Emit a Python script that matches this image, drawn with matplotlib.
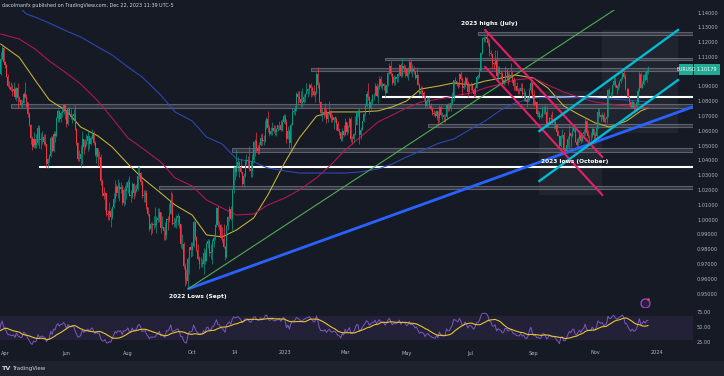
import numpy as np
import pandas as pd
import matplotlib
matplotlib.use("Agg")
import matplotlib.pyplot as plt
from matplotlib.patches import Rectangle
import matplotlib.transforms as mtrans

# ---------------- data (EUR/USD daily) ----------------
start_date, end_date = "2022-03-01", "2023-12-22"

close = [
 # 2022-03
 1.1125,1.1120,1.1065,1.0930,1.0855,1.0905,1.1075,1.0985,1.0915,1.0940,1.0955,1.1035,1.1095,1.1050,1.1015,1.1030,1.1005,1.0995,1.0985,1.0985,1.1090,1.1160,1.1067,
 # 2022-04
 1.1046,1.0970,1.0905,1.0900,1.0880,1.0876,1.0885,1.0829,1.0890,1.0825,1.0810,1.0780,1.0790,1.0853,1.0834,1.0795,1.0716,1.0640,1.0555,1.0496,1.0545,
 # 2022-05
 1.0505,1.0523,1.0620,1.0540,1.0550,1.0560,1.0530,1.0515,1.0380,1.0410,1.0435,1.0555,1.0465,1.0585,1.0565,1.0690,1.0735,1.0680,1.0725,1.0730,1.0780,1.0735,
 # 2022-06
 1.0650,1.0750,1.0720,1.0695,1.0705,1.0715,1.0615,1.0520,1.0410,1.0415,1.0445,1.0550,1.0495,1.0515,1.0535,1.0565,1.0515,1.0555,1.0585,1.0520,1.0440,1.0485,
 # 2022-07
 1.0425,1.0425,1.0265,1.0180,1.0160,1.0185,1.0040,1.0035,1.0060,1.0020,1.0085,1.0140,1.0225,1.0180,1.0230,1.0210,1.0225,1.0115,1.0200,1.0195,1.0220,
 # 2022-08
 1.0260,1.0165,1.0165,1.0245,1.0180,1.0195,1.0210,1.0295,1.0320,1.0260,1.0160,1.0170,1.0180,1.0085,1.0040,0.9940,0.9970,0.9965,0.9970,0.9965,1.0000,1.0015,1.0055,
 # 2022-09
 0.9945,0.9955,0.9925,0.9900,1.0010,1.0000,1.0040,1.0120,0.9975,0.9980,0.9995,1.0015,1.0025,0.9970,0.9837,0.9838,0.9690,0.9605,0.9590,0.9735,0.9815,0.9800,
 # 2022-10
 0.9825,0.9985,0.9885,0.9795,0.9740,0.9700,0.9705,0.9705,0.9780,0.9720,0.9840,0.9860,0.9775,0.9785,0.9860,0.9880,0.9965,1.0080,0.9965,0.9965,0.9880,
 # 2022-11
 0.9875,0.9820,0.9750,0.9960,1.0020,1.0075,1.0010,1.0210,1.0355,1.0325,1.0350,1.0395,1.0360,1.0325,1.0245,1.0300,1.0395,1.0405,1.0400,1.0345,1.0330,1.0405,
 # 2022-12
 1.0525,1.0535,1.0490,1.0465,1.0505,1.0555,1.0535,1.0535,1.0630,1.0680,1.0625,1.0585,1.0605,1.0625,1.0600,1.0595,1.0615,1.0640,1.0640,1.0610,1.0665,1.0705,
 # 2023-01
 1.0665,1.0545,1.0605,1.0520,1.0645,1.0730,1.0735,1.0760,1.0855,1.0830,1.0820,1.0790,1.0795,1.0830,1.0855,1.0870,1.0885,1.0915,1.0890,1.0870,1.0845,1.0865,
 # 2023-02
 1.0990,1.0910,1.0795,1.0725,1.0730,1.0715,1.0740,1.0680,1.0720,1.0740,1.0690,1.0675,1.0695,1.0685,1.0650,1.0605,1.0595,1.0545,1.0605,1.0575,
 # 2023-03
 1.0665,1.0595,1.0635,1.0685,1.0550,1.0545,1.0580,1.0640,1.0730,1.0730,1.0575,1.0610,1.0670,1.0720,1.0770,1.0855,1.0830,1.0760,1.0800,1.0845,1.0845,1.0905,1.0840,
 # 2023-04
 1.0900,1.0955,1.0905,1.0920,1.0905,1.0860,1.0915,1.0995,1.1045,1.0990,1.0925,1.0970,1.0955,1.0965,1.0990,1.1050,1.0975,1.1040,1.1030,1.1020,
 # 2023-05
 1.0975,1.0995,1.1070,1.1010,1.1020,1.1005,1.0960,1.0980,1.0915,1.0850,1.0870,1.0860,1.0840,1.0770,1.0805,1.0815,1.0770,1.0750,1.0725,1.0720,1.0705,1.0735,1.0690,
 # 2023-06
 1.0765,1.0710,1.0710,1.0695,1.0700,1.0780,1.0750,1.0750,1.0790,1.0830,1.0945,1.0940,1.0925,1.0915,1.0990,1.0955,1.0895,1.0905,1.0960,1.0915,1.0865,1.0910,
 # 2023-07
 1.0910,1.0880,1.0850,1.0890,1.0970,1.0970,1.1010,1.1130,1.1225,1.1230,1.1235,1.1225,1.1200,1.1130,1.1125,1.1065,1.1055,1.1085,1.0975,1.1015,1.0995,
 # 2023-08
 1.0985,1.0935,1.0945,1.1005,1.1000,1.0955,1.0975,1.0980,1.0945,1.0905,1.0905,1.0875,1.0870,1.0870,1.0895,1.0850,1.0860,1.0810,1.0795,1.0820,1.0880,1.0925,1.0845,
 # 2023-09
 1.0775,1.0795,1.0720,1.0725,1.0700,1.0700,1.0750,1.0755,1.0730,1.0645,1.0660,1.0690,1.0680,1.0660,1.0660,1.0645,1.0595,1.0570,1.0500,1.0565,1.0575,
 # 2023-10
 1.0475,1.0470,1.0505,1.0550,1.0590,1.0565,1.0605,1.0620,1.0530,1.0510,1.0545,1.0575,1.0535,1.0580,1.0595,1.0670,1.0590,1.0565,1.0565,1.0565,1.0615,1.0575,
 # 2023-11
 1.0570,1.0620,1.0730,1.0710,1.0695,1.0710,1.0665,1.0685,1.0700,1.0880,1.0850,1.0850,1.0910,1.0940,1.0910,1.0890,1.0905,1.0940,1.0955,1.0995,1.0970,1.0885,
 # 2023-12
 1.0885,1.0835,1.0795,1.0765,1.0795,1.0760,1.0765,1.0795,1.0875,1.0990,1.0895,1.0920,1.0980,1.0945,1.1010,1.10179,
]

high = [
 1.1235,1.1150,1.1140,1.1065,1.0935,1.0960,1.1090,1.1120,1.1040,1.0990,1.1010,1.1045,1.1135,1.1110,1.1070,1.1045,1.1035,1.1025,1.1005,1.1005,1.1137,1.1185,1.1175,
 1.1075,1.1053,1.0990,1.0938,1.0933,1.0920,1.0934,1.0900,1.0900,1.0925,1.0840,1.0820,1.0810,1.0866,1.0935,1.0850,1.0790,1.0730,1.0650,1.0570,1.0595,
 1.0545,1.0580,1.0640,1.0642,1.0590,1.0600,1.0580,1.0580,1.0515,1.0420,1.0450,1.0565,1.0565,1.0605,1.0600,1.0700,1.0750,1.0745,1.0738,1.0765,1.0787,1.0765,
 1.0740,1.0765,1.0765,1.0750,1.0720,1.0748,1.0775,1.0625,1.0525,1.0475,1.0505,1.0601,1.0550,1.0545,1.0580,1.0605,1.0570,1.0570,1.0615,1.0605,1.0535,1.0490,
 1.0485,1.0465,1.0445,1.0275,1.0225,1.0190,1.0175,1.0065,1.0120,1.0080,1.0095,1.0185,1.0270,1.0245,1.0280,1.0255,1.0258,1.0240,1.0220,1.0235,1.0255,
 1.0275,1.0295,1.0200,1.0255,1.0250,1.0235,1.0245,1.0368,1.0365,1.0325,1.0270,1.0200,1.0200,1.0200,1.0090,1.0040,0.9990,0.9990,1.0030,1.0090,1.0030,1.0080,1.0080,
 1.0055,1.0030,0.9950,0.9985,1.0015,1.0030,1.0112,1.0197,1.0185,1.0020,1.0017,1.0035,1.0050,1.0020,0.9975,0.9905,0.9850,0.9710,0.9670,0.9750,0.9815,0.9855,
 0.9850,0.9999,0.9990,0.9895,0.9835,0.9755,0.9750,0.9740,0.9808,0.9805,0.9850,0.9875,0.9870,0.9835,0.9872,0.9900,0.9976,1.0090,1.0094,0.9995,0.9975,
 0.9950,0.9975,0.9825,0.9965,1.0030,1.0095,1.0095,1.0220,1.0365,1.0365,1.0480,1.0425,1.0400,1.0410,1.0325,1.0315,1.0410,1.0445,1.0435,1.0500,1.0400,1.0445,
 1.0535,1.0545,1.0595,1.0510,1.0530,1.0585,1.0590,1.0575,1.0675,1.0695,1.0735,1.0640,1.0630,1.0665,1.0640,1.0640,1.0625,1.0645,1.0670,1.0675,1.0680,1.0715,
 1.0715,1.0685,1.0635,1.0615,1.0655,1.0760,1.0760,1.0775,1.0865,1.0875,1.0875,1.0870,1.0890,1.0855,1.0860,1.0925,1.0890,1.0930,1.0930,1.0905,1.0915,1.0875,
 1.1000,1.1033,1.0935,1.0805,1.0760,1.0765,1.0790,1.0755,1.0730,1.0805,1.0745,1.0720,1.0700,1.0705,1.0695,1.0670,1.0625,1.0595,1.0620,1.0645,
 1.0690,1.0665,1.0645,1.0695,1.0695,1.0565,1.0590,1.0705,1.0735,1.0750,1.0755,1.0630,1.0670,1.0725,1.0790,1.0870,1.0930,1.0840,1.0820,1.0850,1.0860,1.0925,1.0925,
 1.0915,1.0975,1.0975,1.0935,1.0925,1.0920,1.0930,1.1000,1.1065,1.1075,1.0995,1.0980,1.0975,1.0980,1.0995,1.1055,1.1065,1.1095,1.1055,1.1050,
 1.1025,1.1035,1.1090,1.1092,1.1055,1.1040,1.1005,1.1035,1.0985,1.0925,1.0905,1.0905,1.0875,1.0840,1.0830,1.0830,1.0830,1.0790,1.0765,1.0745,1.0740,1.0745,1.0735,
 1.0780,1.0780,1.0730,1.0720,1.0715,1.0785,1.0790,1.0790,1.0825,1.0865,1.0950,1.0970,1.0940,1.0935,1.0995,1.1010,1.0970,1.0940,1.0975,1.0965,1.0940,1.0925,
 1.0935,1.0915,1.0895,1.0910,1.0975,1.0990,1.1025,1.1135,1.1235,1.1245,1.1245,1.1276,1.1230,1.1225,1.1150,1.1120,1.1070,1.1150,1.1150,1.1045,1.1045,
 1.1015,1.1000,1.0955,1.1040,1.1030,1.1000,1.1000,1.1065,1.1010,1.0965,1.0950,1.0935,1.0895,1.0890,1.0925,1.0930,1.0890,1.0875,1.0840,1.0830,1.0895,1.0945,1.0925,
 1.0880,1.0810,1.0805,1.0745,1.0735,1.0725,1.0770,1.0770,1.0775,1.0770,1.0670,1.0700,1.0715,1.0735,1.0670,1.0675,1.0650,1.0610,1.0575,1.0575,1.0615,
 1.0595,1.0490,1.0525,1.0565,1.0640,1.0575,1.0635,1.0640,1.0640,1.0555,1.0560,1.0595,1.0590,1.0590,1.0615,1.0695,1.0675,1.0610,1.0575,1.0595,1.0630,1.0625,
 1.0595,1.0635,1.0755,1.0755,1.0715,1.0730,1.0730,1.0700,1.0705,1.0885,1.0890,1.0865,1.0915,1.0965,1.0965,1.0915,1.0925,1.0950,1.0965,1.1005,1.1017,1.0985,
 1.0895,1.0890,1.0840,1.0805,1.0810,1.0800,1.0780,1.0825,1.0890,1.1010,1.1000,1.0940,1.0985,1.1010,1.1015,1.1040,
]

low = [
 1.1090,1.1080,1.1030,1.0890,1.0805,1.0850,1.0905,1.0980,1.0905,1.0910,1.0930,1.0945,1.1020,1.1005,1.1000,1.0990,1.0965,1.0960,1.0965,1.0945,1.0980,1.1085,1.1055,
 1.1027,1.0970,1.0900,1.0885,1.0870,1.0836,1.0860,1.0820,1.0806,1.0757,1.0800,1.0770,1.0760,1.0790,1.0825,1.0767,1.0700,1.0636,1.0515,1.0471,1.0490,
 1.0490,1.0490,1.0505,1.0485,1.0483,1.0512,1.0510,1.0500,1.0355,1.0349,1.0390,1.0425,1.0460,1.0460,1.0530,1.0560,1.0660,1.0660,1.0660,1.0700,1.0720,1.0680,
 1.0627,1.0645,1.0715,1.0685,1.0655,1.0680,1.0610,1.0505,1.0400,1.0400,1.0359,1.0380,1.0445,1.0480,1.0500,1.0470,1.0480,1.0510,1.0545,1.0510,1.0430,1.0385,
 1.0365,1.0410,1.0235,1.0160,1.0145,1.0070,1.0030,0.9998,0.9998,0.9952,1.0008,1.0080,1.0125,1.0160,1.0150,1.0130,1.0180,1.0105,1.0095,1.0110,1.0145,
 1.0185,1.0160,1.0125,1.0150,1.0140,1.0160,1.0190,1.0200,1.0280,1.0240,1.0150,1.0120,1.0120,1.0075,1.0030,0.9925,0.9900,0.9910,0.9940,0.9950,0.9915,0.9985,0.9990,
 0.9910,0.9945,0.9863,0.9865,0.9875,0.9930,0.9990,1.0050,0.9965,0.9955,0.9955,0.9945,0.9966,0.9945,0.9810,0.9807,0.9670,0.9553,0.9570,0.9536,0.9635,0.9750,
 0.9755,0.9820,0.9865,0.9790,0.9730,0.9670,0.9685,0.9685,0.9632,0.9700,0.9725,0.9810,0.9760,0.9740,0.9705,0.9815,0.9865,0.9955,0.9950,0.9935,0.9870,
 0.9850,0.9810,0.9730,0.9745,0.9930,0.9995,1.0000,0.9935,1.0185,1.0270,1.0300,1.0330,1.0290,1.0320,1.0225,1.0225,1.0290,1.0375,1.0350,1.0330,1.0290,1.0290,
 1.0390,1.0430,1.0460,1.0445,1.0445,1.0500,1.0505,1.0510,1.0530,1.0615,1.0595,1.0565,1.0575,1.0575,1.0590,1.0575,1.0570,1.0600,1.0610,1.0600,1.0605,1.0655,
 1.0650,1.0520,1.0545,1.0485,1.0480,1.0640,1.0715,1.0710,1.0735,1.0780,1.0800,1.0765,1.0765,1.0790,1.0800,1.0850,1.0830,1.0855,1.0835,1.0840,1.0840,1.0800,
 1.0855,1.0895,1.0790,1.0705,1.0670,1.0690,1.0705,1.0655,1.0660,1.0710,1.0660,1.0660,1.0615,1.0665,1.0610,1.0600,1.0575,1.0535,1.0535,1.0570,
 1.0575,1.0575,1.0590,1.0630,1.0525,1.0515,1.0525,1.0575,1.0655,1.0695,1.0515,1.0550,1.0610,1.0660,1.0705,1.0765,1.0815,1.0715,1.0745,1.0785,1.0810,1.0840,1.0830,
 1.0790,1.0885,1.0890,1.0880,1.0880,1.0835,1.0860,1.0905,1.0990,1.0975,1.0910,1.0910,1.0915,1.0935,1.0935,1.0975,1.0965,1.0965,1.0995,1.0965,
 1.0965,1.0945,1.0985,1.0995,1.0965,1.0990,1.0955,1.0940,1.0910,1.0845,1.0850,1.0835,1.0815,1.0760,1.0760,1.0800,1.0760,1.0745,1.0710,1.0705,1.0700,1.0675,1.0635,
 1.0665,1.0705,1.0675,1.0665,1.0665,1.0690,1.0735,1.0735,1.0740,1.0775,1.0805,1.0920,1.0905,1.0895,1.0900,1.0945,1.0845,1.0885,1.0900,1.0900,1.0835,1.0865,
 1.0880,1.0870,1.0835,1.0835,1.0890,1.0955,1.0960,1.1010,1.1125,1.1205,1.1205,1.1205,1.1175,1.1110,1.1110,1.1020,1.1020,1.1050,1.0965,1.0945,1.0985,
 1.0945,1.0910,1.0915,1.0935,1.0965,1.0915,1.0940,1.0970,1.0930,1.0880,1.0880,1.0870,1.0855,1.0850,1.0870,1.0835,1.0805,1.0805,1.0765,1.0795,1.0805,1.0860,1.0835,
 1.0770,1.0775,1.0705,1.0700,1.0685,1.0690,1.0710,1.0720,1.0715,1.0630,1.0630,1.0650,1.0665,1.0650,1.0615,1.0615,1.0585,1.0570,1.0490,1.0495,1.0555,
 1.0470,1.0448,1.0460,1.0495,1.0480,1.0495,1.0560,1.0595,1.0525,1.0495,1.0500,1.0525,1.0520,1.0525,1.0570,1.0575,1.0580,1.0555,1.0520,1.0535,1.0555,1.0515,
 1.0520,1.0555,1.0615,1.0700,1.0665,1.0680,1.0660,1.0655,1.0655,1.0695,1.0830,1.0830,1.0840,1.0905,1.0900,1.0850,1.0880,1.0895,1.0925,1.0945,1.0960,1.0880,
 1.0830,1.0830,1.0785,1.0760,1.0755,1.0723,1.0735,1.0740,1.0775,1.0875,1.0890,1.0890,1.0910,1.0940,1.0935,1.0990,
]

# moving averages (SMA 50 yellow, SMA 100 red, SMA 200 blue)
ma_dates = ["2022-03-29","2022-04-15","2022-05-02","2022-05-16","2022-06-01","2022-06-15","2022-07-01","2022-07-15",
            "2022-08-01","2022-08-15","2022-09-01","2022-09-15","2022-10-03","2022-10-17","2022-11-01","2022-11-15",
            "2022-12-01","2022-12-15","2023-01-02","2023-01-16","2023-02-01","2023-02-15","2023-03-01","2023-03-15",
            "2023-04-03","2023-04-17","2023-05-01","2023-05-15","2023-06-01","2023-06-15","2023-07-03","2023-07-17",
            "2023-08-01","2023-08-15","2023-09-01","2023-09-15","2023-10-02","2023-10-16","2023-11-01","2023-11-15",
            "2023-12-01","2023-12-15","2023-12-22"]
sma50 = [1.1190,1.1100,1.0947,1.0812,1.0738,1.0629,1.0569,1.0494,1.0380,1.0285,1.0183,1.0102,1.0034,0.9900,0.9886,0.9933,
         1.0014,1.0170,1.0393,1.0555,1.0703,1.0731,1.0731,1.0731,1.0738,1.0765,1.0805,1.0886,1.0907,1.0927,1.0913,1.0940,
         1.0960,1.0981,1.0960,1.0893,1.0772,1.0717,1.0657,1.0629,1.0670,1.0738,1.0758]
sma100 = [1.1258,1.1224,1.1157,1.1076,1.0994,1.0920,1.0805,1.0690,1.0555,1.0487,1.0393,1.0285,1.0230,1.0136,1.0082,1.0034,
          1.0041,1.0102,1.0150,1.0203,1.0285,1.0372,1.0474,1.0555,1.0663,1.0710,1.0758,1.0798,1.0819,1.0839,1.0859,1.0893,
          1.0920,1.0947,1.0960,1.0913,1.0866,1.0832,1.0798,1.0785,1.0771,1.0762,1.0758]
sma200_dates = ["2022-04-15","2022-04-22","2022-05-02","2022-05-16","2022-06-01","2022-06-15","2022-07-01","2022-07-15",
                "2022-08-01","2022-08-15","2022-09-01","2022-09-15","2022-10-03","2022-10-17","2022-11-01","2022-11-15",
                "2022-12-01","2022-12-15","2023-01-02","2023-01-16","2023-02-01","2023-03-01","2023-03-15","2023-04-03",
                "2023-04-17","2023-05-01","2023-05-15","2023-06-01","2023-06-15","2023-07-03","2023-07-17","2023-08-01",
                "2023-08-15","2023-09-01","2023-09-15","2023-10-02","2023-11-01","2023-12-01","2023-12-22"]
sma200 = [1.1440,1.1393,1.1373,1.1332,1.1278,1.1238,1.1170,1.1116,1.1035,1.0967,1.0846,1.0731,1.0670,1.0562,1.0514,1.0413,
          1.0393,1.0352,1.0332,1.0318,1.0318,1.0318,1.0325,1.0345,1.0379,1.0427,1.0467,1.0521,1.0548,1.0616,1.0670,1.0744,
          1.0792,1.0825,1.0832,1.0832,1.0825,1.0812,1.0798]

# horizontal zones (start date, top, bottom) and white levels
zone_start = ["2023-07-10","2023-04-10","2023-01-26","2022-04-07","2023-05-22","2022-11-10","2022-08-31"]
zone_top = [1.1271,1.1099,1.1028,1.0785,1.0650,1.0487,1.0228]
zone_bot = [1.1251,1.1079,1.1008,1.0761,1.0629,1.0460,1.0207]
level_start = ["2023-04-06","2022-05-05"]
level_price = [1.0832,1.0359]

# shaded boxes (start, end, top, bottom)
box_start = ["2023-09-07","2023-11-08"]
box_end = ["2023-11-08","2024-01-22"]
box_top = [1.0870,1.1285]
box_bot = [1.0170,1.0590]

# trend lines: anchor dates and prices
blue_dates, blue_prices = ["2022-09-28","2024-02-05"], [0.9534,1.0764]
green_dates, green_prices = ["2022-09-28","2023-05-24"], [0.9534,1.0609]
pink_dates = ["2023-07-17","2023-11-08"]
pink_upper, pink_lower = [1.1285,1.0427], [1.1035,1.0170]
cyan_dates = ["2023-09-07","2024-01-22"]
cyan_upper, cyan_lower = [1.0602,1.1285], [1.0264,1.0947]

notes = ["2023 highs (July)","2022 Lows (Sept)","2023 lows (October)"]
note_dates = ["2023-07-20","2022-10-07","2023-10-12"]
note_prices = [1.1332,0.9480,1.0393]

price_ticks = [0.95,0.96,0.97,0.98,0.99,1.00,1.01,1.02,1.03,1.04,1.05,1.06,1.07,1.08,1.09,1.11,1.12,1.13,1.14]
date_labels = ["Apr","Jun","Aug","Oct","14","2023","Mar","May","Jul","Sep","Nov","2024"]
date_ticks = ["2022-04-01","2022-06-01","2022-08-01","2022-10-03","2022-11-14","2023-01-02","2023-03-01",
              "2023-05-01","2023-07-03","2023-09-01","2023-11-01","2024-01-01"]
last_price = 1.10179
rsi_ticks = [75, 50, 25]

# ---------------- figure ----------------
W, H = 724, 376
BG = "#161a25"
UP, DN = "#089981", "#f23645"
TXT = "#b2b5be"

close = np.array(close); high = np.array(high); low = np.array(low)
dates = pd.bdate_range(start_date, end_date)
assert len(dates) == len(close) == len(high) == len(low), (len(dates), len(close), len(high), len(low))
all_dates = pd.bdate_range(start_date, "2024-06-28")

def pos(d):
    return np.asarray(all_dates.searchsorted(pd.to_datetime(d)), dtype=float)

fig = plt.figure(figsize=(W / 100, H / 100), dpi=100)
fig.patch.set_facecolor(BG)

def rect(x0, y0, x1, y1):
    return [x0 / W, 1 - y1 / H, (x1 - x0) / W, (y1 - y0) / H]

ax = fig.add_axes(rect(0, 10, 693, 308))
rax = fig.add_axes(rect(0, 308, 693, 349))
XL = (19.5, 504.5)
for a in (ax, rax):
    a.set_facecolor(BG)
    a.set_xlim(*XL)
    for s in a.spines.values():
        s.set_visible(False)
    a.set_xticks([]); a.set_yticks([])
ax.set_ylim(0.94054, 1.14203)

# shaded boxes
for s0, s1, t, b in zip(box_start, box_end, box_top, box_bot):
    x0, x1 = pos(s0), pos(s1)
    ax.add_patch(Rectangle((x0, b), x1 - x0, t - b, facecolor="#2a2e39", alpha=0.55, edgecolor="none", zorder=0.5))

# horizontal zones
for d, t, b in zip(zone_start, zone_top, zone_bot):
    x0 = pos(d)
    ax.add_patch(Rectangle((x0, b), XL[1] - x0, t - b, facecolor="#4a4e5a", alpha=0.55,
                           edgecolor="#8d9099", lw=0.8, zorder=1))
for d, p in zip(level_start, level_price):
    ax.hlines(p, pos(d), XL[1], color="white", lw=1.5, zorder=2)

# moving averages
ax.plot(pos(ma_dates), sma50, color="#c9b63a", lw=0.75, zorder=3)
ax.plot(pos(ma_dates), sma100, color="#b8175a", lw=0.75, zorder=3)
ax.plot(pos(sma200_dates), sma200, color="#2d4bb8", lw=0.75, zorder=3)

# candles
x = np.arange(len(close), dtype=float)
o = np.r_[close[0], close[:-1]]
hi = np.maximum(high, np.maximum(o, close))
lo = np.minimum(low, np.minimum(o, close))
cols = np.where(close >= o, UP, DN)
ax.vlines(x, lo, hi, colors=cols, lw=0.5, zorder=4)
body = np.maximum(np.abs(close - o), 0.0003)
ax.bar(x, body, bottom=np.minimum(o, close), width=0.72, color=cols, linewidth=0, zorder=5)

# trend lines
def extend(dts, prs, x_end):
    x0, x1 = pos(dts)
    s = (prs[1] - prs[0]) / (x1 - x0)
    return [x0, x_end], [prs[0], prs[0] + s * (x_end - x0)]
bx, by = extend(blue_dates, blue_prices, XL[1])
ax.plot(bx, by, color="#2962ff", lw=2.0, zorder=6, solid_capstyle="butt")
gx, gy = extend(green_dates, green_prices, 700)
ax.plot(gx, gy, color="#4caf50", lw=0.8, zorder=6)
ax.plot(pos(pink_dates), pink_upper, color="#e91e63", lw=1.5, zorder=6)
ax.plot(pos(pink_dates), pink_lower, color="#e91e63", lw=1.5, zorder=6)
ax.plot(pos(cyan_dates), cyan_upper, color="#00bcd4", lw=1.7, zorder=6)
ax.plot(pos(cyan_dates), cyan_lower, color="#00bcd4", lw=1.7, zorder=6)

for t, d, p in zip(notes, note_dates, note_prices):
    ax.text(pos(d), p, t, color="white", fontsize=4.2, fontweight="bold", ha="center", va="center", zorder=8)

# price scale
ytr = mtrans.blended_transform_factory(fig.transFigure, ax.transData)
for v in price_ticks:
    fig.text(697 / W, v, f"{v:.5f}", transform=ytr, fontsize=3.6, color=TXT, va="center", ha="left")
# current price label
yl = last_price
ax.add_patch(Rectangle((XL[1] - 14 / 1.4289, yl - 0.0034), 14 / 1.4289, 0.0068, facecolor="#22ab94",
                       edgecolor="none", zorder=9, clip_on=False))
fig.text(686 / W, yl, "EURUSD", transform=ytr, fontsize=3.3, color="white", ha="center", va="center", zorder=10)
fig.patches.append(Rectangle((694 / W, yl - 0.0034), 26 / W, 0.0068, transform=ytr, facecolor="#22ab94",
                             edgecolor="none", figure=fig))
fig.text(707 / W, yl, f"{last_price:.5f}", transform=ytr, fontsize=3.6, color="white", ha="center", va="center")

# alert icon
ax.plot([pos("2023-12-20")], [0.9438], marker="o", ms=6.5, mfc="#2a1f3d", mec="#9c4dcc", mew=0.9, zorder=9, clip_on=False)
ax.plot([pos("2023-12-22")], [0.9465], marker="o", ms=2, mfc="#f23645", mec="none", zorder=10, clip_on=False)

# ---------------- RSI ----------------
delta = np.diff(close, prepend=close[0])
gain = np.clip(delta, 0, None); loss = np.clip(-delta, 0, None)
ag = pd.Series(gain).ewm(alpha=1 / 14, adjust=False).mean()
al = pd.Series(loss).ewm(alpha=1 / 14, adjust=False).mean()
rsi = 100 - 100 / (1 + ag / al.replace(0, np.nan))
rsi_ma = rsi.rolling(14).mean()
rax.set_ylim(15, 83.33)
rax.axhspan(30, 70, color="#7e57c2", alpha=0.12, lw=0)
rax.plot(x, rsi, color="#7e57c2", lw=0.7)
rax.plot(x, rsi_ma, color="#e6c431", lw=0.8)
rtr = mtrans.blended_transform_factory(fig.transFigure, rax.transData)
for v in rsi_ticks:
    fig.text(697 / W, v, f"{v:.2f}", transform=rtr, fontsize=3.6, color=TXT, va="center", ha="left")

# date axis
dtr = mtrans.blended_transform_factory(rax.transData, fig.transFigure)
for lab, d in zip(date_labels, date_ticks):
    rax.text(pos(d), 1 - 353 / H, lab, transform=dtr, fontsize=3.6, color=TXT, ha="center", va="center", clip_on=False)

# header and footer
fig.text(2 / W, 1 - 5 / H, "dacolmanfx published on TradingView.com, Dec 22, 2023 11:39 UTC-5",
         fontsize=3.5, color="#d1d4dc", va="center", ha="left")
fig.patches.append(Rectangle((0, 0), 1, 15 / H, transform=fig.transFigure, facecolor="#1e222d",
                             edgecolor="none", figure=fig))
fig.text(2 / W, 1 - 368.5 / H, "TV", fontsize=4.6, fontweight="bold", color="#d1d4dc", va="center", ha="left")
fig.text(12 / W, 1 - 368.5 / H, "TradingView", fontsize=4.0, color="#d1d4dc", va="center", ha="left")

fig.savefig("out.png", dpi=100, facecolor=BG)
